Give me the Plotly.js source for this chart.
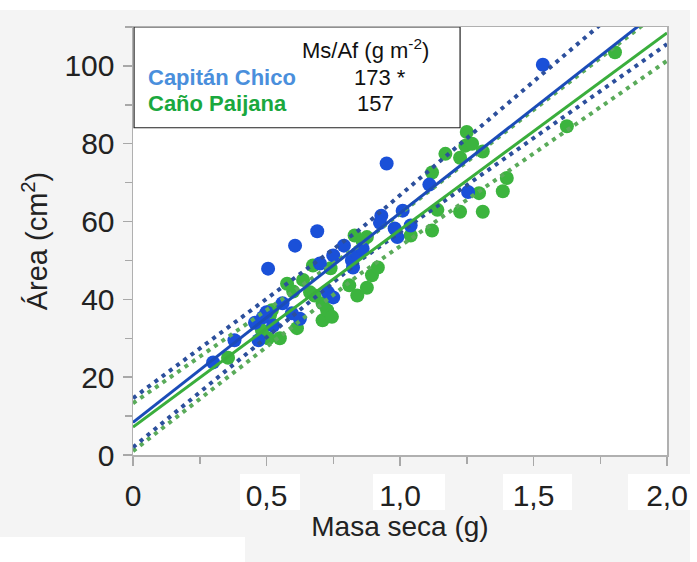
<!DOCTYPE html>
<html>
<head>
<meta charset="utf-8">
<script src="https://cdn.plot.ly/plotly-3.0.1.min.js"></script>
<style>html,body{margin:0;padding:0;background:#fff;}#chart{width:697px;height:562px;}</style>
</head>
<body>
<div id="chart"></div>
<script>
// Capitán Chico (blue) points
const blueX = [0.30, 0.38, 0.47, 0.457, 0.487, 0.50, 0.506, 0.56, 0.595, 0.625, 0.525, 0.607, 0.69, 0.70, 0.73, 0.75, 0.75, 0.79, 0.82, 0.84, 0.824, 0.86, 0.93, 0.925, 0.95, 0.98, 0.99, 1.01, 1.04, 1.11, 1.255, 1.535];
const blueY = [23.8, 29.5, 29.5, 34.0, 35.4, 36.7, 47.9, 39.0, 36.4, 35.0, 33.3, 53.8, 57.5, 49.2, 41.8, 40.5, 51.3, 53.8, 50.0, 51.8, 48.2, 53.0, 61.5, 59.7, 74.9, 58.2, 56.0, 62.8, 59.0, 69.5, 67.6, 100.3];
// Caño Paijana (green) points
const greenX = [0.356, 0.483, 0.506, 0.55, 0.52, 0.513, 0.577, 0.637, 0.614, 0.663, 0.674, 0.68, 0.71, 0.727, 0.71, 0.74, 0.81, 0.84, 0.876, 0.895, 0.917, 0.83, 0.86, 0.876, 1.04, 1.12, 1.12, 1.14, 1.17, 1.225, 1.225, 1.245, 1.25, 1.27, 1.31, 1.296, 1.31, 1.385, 1.40, 1.625, 1.805, 0.745, 0.60];
const greenY = [25.0, 32.0, 30.0, 30.0, 37.2, 35.9, 44.0, 45.0, 32.6, 41.8, 48.7, 41.0, 34.6, 37.2, 39.0, 48.0, 43.6, 41.0, 43.0, 46.2, 48.2, 56.4, 55.0, 56.0, 56.4, 57.7, 72.6, 63.0, 77.4, 76.4, 62.5, 79.5, 83.0, 80.0, 78.0, 67.3, 62.5, 67.8, 71.2, 84.5, 103.5, 35.5, 42.0];
// Regression lines and bands
const blueFitX = [0, 2.0], blueFitY = [8.4, 116.0];
const greenFitX = [0, 2.0], greenFitY = [7.2, 108.5];
const blueUpX = [0, 0.85, 1.74, 2.0], blueUpY = [14.6, 58.0, 110.0, 125.0];
const blueLoX = [0, 0.85, 2.0], blueLoY = [2.0, 50.0, 105.6];
const greenUpX = [0, 0.85, 1.9, 2.0], greenUpY = [13.3, 54.0, 110.0, 115.5];
const greenLoX = [0, 0.85, 2.0], greenLoY = [1.0, 46.5, 101.3];
// Ticks
const xTickVals = [0, 0.5, 1.0, 1.5, 2.0];
const xTickText = ['0', '0,5', '1,0', '1,5', '2,0'];
const yTickVals = [0, 20, 40, 60, 80, 100];

const BLUE = '#1a50d8', GREEN = '#3cb43e';
const BLUE_LINE = '#1b4cb8', GREEN_LINE = '#3aae3c';
const BLUE_DOT = '#2c4f9c', GREEN_DOT = '#5aab5a';
const DOT = '4px,5px';

const traces = [
  {x: greenX, y: greenY, mode: 'markers', type: 'scatter', marker: {color: GREEN, size: 14}, hoverinfo: 'skip'},
  {x: blueX, y: blueY, mode: 'markers', type: 'scatter', marker: {color: BLUE, size: 14}, hoverinfo: 'skip'},
  {x: greenUpX, y: greenUpY, mode: 'lines', line: {color: GREEN_DOT, width: 4, dash: DOT}},
  {x: greenLoX, y: greenLoY, mode: 'lines', line: {color: GREEN_DOT, width: 4, dash: DOT}},
  {x: blueUpX, y: blueUpY, mode: 'lines', line: {color: BLUE_DOT, width: 4, dash: DOT}},
  {x: blueLoX, y: blueLoY, mode: 'lines', line: {color: BLUE_DOT, width: 4, dash: DOT}},
  {x: greenFitX, y: greenFitY, mode: 'lines', line: {color: GREEN_LINE, width: 3}},
  {x: blueFitX, y: blueFitY, mode: 'lines', line: {color: BLUE_LINE, width: 3}}
];

// pixel -> paper helpers for decorative background shapes
const L = 133, R = 667, T = 27, B = 455;
const px = v => (v - L) / (R - L);
const py = v => (B - v) / (B - T);
function whiteRect(x0, y0, x1, y1) {
  return {type: 'rect', xref: 'paper', yref: 'paper', x0: px(x0), x1: px(x1), y0: py(y1), y1: py(y0),
          fillcolor: '#ffffff', line: {width: 0}, layer: 'below'};
}

const shapes = [
  whiteRect(0, 0, 697, 10),
  whiteRect(690, 0, 697, 562),
  whiteRect(0, 537, 245, 562),
  whiteRect(240, 474, 300, 510),
  whiteRect(373, 474, 445, 510),
  whiteRect(503, 474, 572, 510),
  whiteRect(628, 474, 697, 510),
  {type: 'rect', xref: 'x', yref: 'y', x0: 0.004, x1: 1.225, y0: 84.1, y1: 110,
   fillcolor: '#ffffff', line: {color: '#222222', width: 1.2}, layer: 'above'}
];

const FONT = 'Liberation Sans, Arial, Helvetica, sans-serif';
const annotations = [
  {x: 0.625, y: 104.4, xref: 'x', yref: 'y', text: 'Ms/Af (g m<sup>-2</sup>)', showarrow: false, xanchor: 'left', yanchor: 'middle', font: {size: 22, color: '#111', family: FONT}},
  {x: 0.049, y: 96.9, xref: 'x', yref: 'y', text: '<b>Capitán Chico</b>', showarrow: false, xanchor: 'left', yanchor: 'middle', font: {size: 22, color: '#4a8fdc', family: FONT}},
  {x: 0.82, y: 96.9, xref: 'x', yref: 'y', text: '173 *', showarrow: false, xanchor: 'left', yanchor: 'middle', font: {size: 22, color: '#111', family: FONT}},
  {x: 0.049, y: 90.3, xref: 'x', yref: 'y', text: '<b>Caño Paijana</b>', showarrow: false, xanchor: 'left', yanchor: 'middle', font: {size: 22, color: '#1aa83e', family: FONT}},
  {x: 0.831, y: 90.3, xref: 'x', yref: 'y', text: '157', showarrow: false, xanchor: 'left', yanchor: 'middle', font: {size: 22, color: '#111', family: FONT}}
];

const layout = {
  width: 697, height: 562,
  margin: {l: L, r: 697 - R, t: T, b: 562 - B, pad: 0},
  paper_bgcolor: '#f4f4f4',
  plot_bgcolor: '#ffffff',
  showlegend: false,
  font: {family: FONT, color: '#222'},
  xaxis: {
    range: [0, 2.0], tickvals: xTickVals, ticktext: xTickText,
    ticks: 'outside', ticklen: 9, tickwidth: 1.5, tickcolor: '#a8a8a8',
    minor: {dtick: 0.25, tick0: 0, ticks: 'outside', ticklen: 7, tickwidth: 1.5, tickcolor: '#a8a8a8'},
    showline: true, linecolor: '#b0b0b0', linewidth: 1.5, mirror: true,
    showgrid: false, zeroline: false,
    tickfont: {size: 30, color: '#222'}, ticklabelstandoff: 4,
    title: {text: 'Masa seca (g)', font: {size: 28, color: '#222'}, standoff: 0}
  },
  yaxis: {
    range: [0, 110], tickvals: yTickVals,
    ticks: 'outside', ticklen: 9, tickwidth: 1.5, tickcolor: '#a8a8a8',
    minor: {dtick: 10, tick0: 0, ticks: 'outside', ticklen: 7, tickwidth: 1.5, tickcolor: '#a8a8a8'},
    showline: true, linecolor: '#b0b0b0', linewidth: 1.5, mirror: true,
    showgrid: false, zeroline: false,
    tickfont: {size: 30, color: '#222'}, ticklabelstandoff: 2,
    title: {text: 'Área (cm<sup>2</sup>)', font: {size: 29, color: '#222'}, standoff: 8}
  },
  shapes: shapes,
  annotations: annotations
};

Plotly.newPlot('chart', traces, layout, {staticPlot: true, displayModeBar: false});
</script>
</body>
</html>
